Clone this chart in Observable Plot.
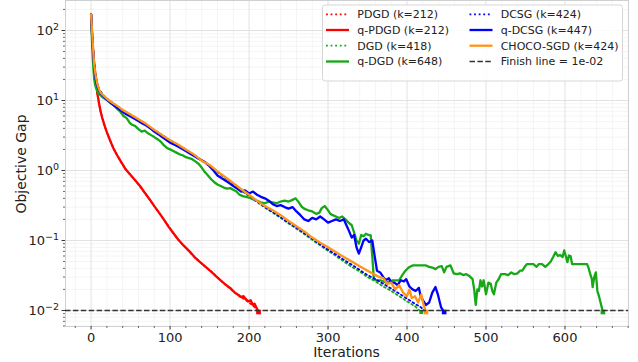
<!DOCTYPE html>
<html><head><meta charset="utf-8">
<script src="https://cdn.jsdelivr.net/npm/d3@7"></script>
<script src="https://cdn.jsdelivr.net/npm/@observablehq/plot@0.6"></script>
<style>
html,body{margin:0;padding:0;background:#fff;}
#wrap{position:relative;width:638px;height:362px;font-family:"DejaVu Sans",sans-serif;}
#wrap svg{position:absolute;left:0;top:0;}
</style></head><body><div id="wrap"></div>
<script>
// ---- data (iteration, objective gap) ----
const PDGD = [[0,170],[1,92],[2,61],[3,43],[4,32],[5,25],[6,19.5],[7,15.5],[8,12.4],[10,9.1],[12,7.0],[14,5.7],[17,4.4],[20,3.5],[24,2.7],[28,2.1],[33,1.64],[38,1.32],[44,1.03],[50,0.86],[56,0.72],[62,0.59],[68,0.48],[74,0.385],[80,0.31],[86,0.25],[92,0.2],[98,0.16],[104,0.128],[110,0.104],[117,0.085],[124,0.07],[131,0.058],[138,0.049],[145,0.042],[152,0.036],[158,0.031],[164,0.027],[170,0.0235],[176,0.0205],[182,0.018],[188,0.016],[194,0.0145],[200,0.013],[206,0.0115],[212,0.0095]];
const qPDGD = [[0,170],[1,95],[2,62],[3,44],[4,33],[5,26],[6,20],[7,15.5],[8,12.5],[10,9.2],[12,7.0],[14,5.7],[17,4.4],[20,3.5],[24,2.7],[28,2.1],[33,1.65],[38,1.33],[44,1.03],[50,0.86],[56,0.72],[62,0.6],[68,0.48],[74,0.39],[80,0.31],[86,0.25],[92,0.2],[98,0.158],[104,0.128],[110,0.104],[117,0.085],[124,0.071],[131,0.058],[138,0.049],[145,0.042],[152,0.036],[158,0.031],[164,0.027],[170,0.0235],[176,0.021],[182,0.018],[187,0.0165],[190,0.0155],[193,0.016],[196,0.0145],[199,0.0135],[202,0.014],[205,0.012],[207,0.0125],[209,0.0112],[212,0.0095]];
const DGD = [[0,170],[2,70],[4,33],[6,22],[8,17],[10,14.5],[15,12],[20,10.5],[30,8.7],[40,7.2],[50,6.2],[60,5.3],[70,4.5],[80,3.75],[90,3.15],[100,2.65],[110,2.3],[120,1.95],[130,1.65],[140,1.38],[150,1.15],[160,0.95],[170,0.78],[180,0.64],[190,0.52],[200,0.43],[210,0.355],[220,0.295],[230,0.25],[240,0.21],[250,0.175],[260,0.147],[270,0.123],[280,0.102],[290,0.085],[300,0.071],[310,0.06],[320,0.05],[330,0.042],[340,0.036],[350,0.03],[360,0.026],[370,0.022],[380,0.019],[390,0.016],[400,0.0135],[410,0.0115],[418,0.0095]];
const qDGD = [[0,170],[1,80],[2,44],[3,28],[4,20],[5,17],[6,15.5],[8,13.5],[10,12.3],[12,11.8],[15,11],[18,10.5],[21,10],[25,9.2],[29,8.5],[33,7.6],[37,6.9],[41,6.0],[45,5.6],[49,4.8],[52,4.5],[56,4.3],[60,3.9],[64,3.6],[68,3.7],[72,3.4],[76,3.2],[80,3.0],[84,2.8],[88,2.6],[92,2.3],[96,2.1],[100,2.0],[104,1.9],[108,1.8],[112,1.7],[116,1.65],[120,1.55],[124,1.5],[128,1.45],[132,1.35],[136,1.25],[140,1.1],[144,0.95],[148,0.85],[152,0.75],[156,0.68],[160,0.63],[164,0.6],[168,0.57],[172,0.55],[176,0.56],[180,0.53],[184,0.5],[188,0.45],[192,0.43],[196,0.42],[200,0.41],[205,0.39],[210,0.37],[215,0.35],[220,0.34],[225,0.36],[230,0.35],[235,0.34],[240,0.36],[245,0.37],[250,0.36],[255,0.38],[259,0.4],[263,0.35],[267,0.3],[271,0.28],[275,0.27],[280,0.26],[285,0.24],[289,0.25],[292,0.29],[296,0.31],[299,0.28],[303,0.24],[306,0.23],[310,0.22],[314,0.21],[318,0.22],[322,0.2],[326,0.18],[330,0.165],[333,0.13],[336,0.1],[339,0.09],[342,0.12],[345,0.115],[348,0.125],[351,0.12],[354,0.118],[356,0.06],[358,0.028],[362,0.027],[366,0.027],[370,0.026],[374,0.025],[378,0.026],[382,0.027],[386,0.027],[390,0.027],[394,0.032],[398,0.037],[402,0.041],[407,0.044],[412,0.044],[418,0.044],[424,0.044],[428,0.042],[432,0.041],[436,0.039],[440,0.042],[444,0.043],[447,0.035],[450,0.042],[455,0.044],[459,0.034],[463,0.033],[467,0.034],[471,0.032],[475,0.033],[479,0.031],[483,0.028],[485,0.02],[487,0.012],[489,0.02],[491,0.019],[493,0.027],[495,0.022],[497,0.027],[500,0.017],[503,0.025],[506,0.024],[508,0.019],[510,0.017],[513,0.025],[516,0.028],[519,0.033],[524,0.033],[528,0.032],[532,0.035],[536,0.033],[540,0.034],[543,0.037],[546,0.037],[549,0.042],[552,0.046],[556,0.046],[560,0.046],[564,0.042],[567,0.046],[571,0.046],[575,0.042],[579,0.046],[582,0.05],[585,0.058],[588,0.068],[591,0.06],[594,0.062],[597,0.058],[599,0.072],[601,0.06],[603,0.049],[605,0.061],[607,0.06],[609,0.046],[613,0.046],[618,0.046],[623,0.046],[628,0.046],[630,0.04],[632,0.033],[634,0.028],[635,0.0216],[637,0.03],[639,0.035],[641,0.019],[643,0.016],[645,0.013],[648,0.0095]];
const DCSG = [[0,170],[2,70],[4,33],[6,22],[8,17],[10,14.5],[15,12],[20,10.6],[30,8.8],[40,7.3],[50,6.3],[60,5.35],[70,4.55],[80,3.8],[90,3.2],[100,2.7],[110,2.33],[120,1.98],[130,1.68],[140,1.4],[150,1.17],[160,0.96],[170,0.79],[180,0.65],[190,0.53],[200,0.44],[210,0.36],[220,0.3],[230,0.255],[240,0.215],[250,0.18],[260,0.152],[270,0.127],[280,0.106],[290,0.088],[300,0.074],[310,0.063],[320,0.053],[330,0.045],[340,0.038],[350,0.032],[360,0.028],[370,0.024],[380,0.0205],[390,0.0175],[400,0.0148],[410,0.0125],[418,0.011],[424,0.0095]];
const qDCSG = [[0,170],[1,100],[2,62],[3,42],[4,30],[5,24],[6,20],[8,16],[10,14],[12,12.7],[15,11.8],[20,10.3],[25,9.2],[30,8.3],[35,7.6],[40,6.9],[45,6.3],[50,5.9],[55,5.5],[60,5.1],[65,4.7],[70,4.4],[75,4.0],[80,3.6],[85,3.3],[90,3.0],[95,2.75],[100,2.5],[105,2.35],[110,2.2],[115,2.05],[120,1.9],[125,1.75],[130,1.62],[135,1.5],[140,1.4],[145,1.3],[150,1.15],[155,1.0],[160,0.85],[165,0.78],[170,0.72],[175,0.66],[180,0.6],[185,0.55],[190,0.5],[195,0.52],[200,0.47],[205,0.5],[210,0.45],[215,0.42],[220,0.4],[225,0.37],[230,0.33],[235,0.31],[240,0.32],[245,0.3],[250,0.285],[255,0.3],[260,0.26],[265,0.23],[270,0.2],[275,0.19],[280,0.21],[285,0.2],[290,0.22],[295,0.2],[300,0.18],[305,0.19],[310,0.2],[315,0.19],[320,0.2],[325,0.15],[330,0.11],[333,0.12],[336,0.08],[339,0.065],[342,0.08],[345,0.1],[348,0.106],[352,0.095],[356,0.1],[359,0.06],[362,0.037],[366,0.035],[370,0.03],[373,0.027],[377,0.029],[380,0.025],[384,0.025],[388,0.023],[392,0.027],[396,0.026],[399,0.028],[403,0.022],[407,0.02],[411,0.019],[415,0.021],[417,0.0165],[420,0.014],[424,0.012],[428,0.013],[432,0.018],[436,0.0216],[439,0.017],[443,0.0112],[447,0.0095]];
const CHOCO = [[0,170],[1,110],[2,70],[3,45],[4,32],[5,26],[6,22],[8,17],[10,14.5],[12,13],[15,12],[20,10.6],[25,9.6],[30,8.8],[35,8.1],[40,7.3],[50,6.3],[60,5.4],[70,4.6],[80,3.8],[90,3.2],[100,2.7],[110,2.35],[120,2.0],[130,1.7],[140,1.38],[150,1.2],[160,0.97],[170,0.8],[180,0.66],[190,0.54],[200,0.45],[210,0.37],[220,0.31],[230,0.27],[240,0.23],[250,0.19],[260,0.16],[270,0.135],[280,0.11],[290,0.093],[300,0.08],[310,0.068],[320,0.058],[330,0.05],[340,0.043],[350,0.037],[360,0.032],[365,0.03],[370,0.029],[375,0.024],[380,0.025],[385,0.02],[390,0.023],[395,0.018],[400,0.016],[403,0.02],[406,0.015],[410,0.016],[414,0.013],[418,0.017],[421,0.012],[424,0.0095]];
const finishLine = 0.01;

const seriesNames = ["PDGD (k=212)","q-PDGD (k=212)","DGD (k=418)","q-DGD (k=648)","DCSG (k=424)","q-DCSG (k=447)","CHOCO-SGD (k=424)","Finish line = 1e-02"];
const xTicks = [0,100,200,300,400,500,600];
const yTicks = [0.01,0.1,1,10,100];
const yTickLabels = ["10^−2","10^−1","10^0","10^1","10^2"];

// ---- styles ----
const RED="#ff0000", GREEN="#16a816", BLUE="#0000ff", ORANGE="#ff9418";
const xMinor=[]; for(let v=-20; v<=680; v+=20) if(v%100!==0) xMinor.push(v);
const yMinor=[]; for(let k=-3;k<=2;k++) for(let m=2;m<=9;m++){const v=m*Math.pow(10,k); if(v>0.0059&&v<268) yMinor.push(v);}

const X=d=>d[0], Y=d=>d[1];
const solid=(data,c)=>Plot.line(data,{x:X,y:Y,stroke:c,strokeWidth:2.3,strokeLinejoin:"round"});
const dotted=(data,c)=>Plot.line(data,{x:X,y:Y,stroke:c,strokeWidth:1.8,strokeDasharray:"1.8,2.8"});
const endDot=(data,c,r)=>Plot.dot([data[data.length-1]],{x:X,y:Y,fill:c,symbol:"square",r:r});

const chart = Plot.plot({
  width:638, height:362,
  marginLeft:65, marginRight:10, marginTop:0, marginBottom:36,
  style:{fontFamily:"DejaVu Sans, sans-serif", fontSize:"13px", color:"#222", background:"transparent", overflow:"visible"},
  x:{domain:[-32.4,680.4], label:null},
  y:{type:"log", domain:[Math.pow(10,-2.229),Math.pow(10,2.4286)], label:null},
  marks:[
    Plot.ruleY(yMinor,{stroke:"#f1f1f1",strokeWidth:0.8}),
    Plot.ruleX(xMinor,{stroke:"#f1f1f1",strokeWidth:0.8}),
    Plot.ruleY(yTicks,{stroke:"#e2e2e2",strokeWidth:1}),
    Plot.ruleX(xTicks,{stroke:"#e2e2e2",strokeWidth:1}),
    Plot.frame({stroke:"#d0d0d0"}),
    dotted(PDGD,RED), solid(qPDGD,RED),
    dotted(DGD,GREEN), solid(qDGD,GREEN),
    dotted(DCSG,BLUE), solid(qDCSG,BLUE),
    solid(CHOCO,ORANGE),
    endDot(PDGD,RED,2.2), endDot(qPDGD,RED,2.6),
    endDot(DGD,GREEN,2.2), endDot(qDGD,GREEN,2.6),
    endDot(DCSG,BLUE,2.2), endDot(qDCSG,BLUE,2.6),
    endDot(CHOCO,ORANGE,2.6),
    Plot.ruleY([finishLine],{stroke:"#333",strokeWidth:1.5,strokeDasharray:"5.5,2.4"}),
    Plot.axisX({ticks:xTicks, tickSize:3.5, tickPadding:3, label:null, tickFormat:d=>String(d), stroke:"#333"}),
    Plot.axisX({ticks:xMinor, tickSize:2, label:null, tickFormat:()=>"", stroke:"#666"}),
    Plot.axisY({ticks:yTicks, tickSize:3.5, tickPadding:3, label:null, tickFormat:(d,i)=>yTickLabels[yTicks.indexOf(d)], stroke:"#333"}),
    Plot.axisY({ticks:yMinor, tickSize:2, label:null, tickFormat:()=>"", stroke:"#666"})
  ]
});
const wrap=document.getElementById("wrap");
wrap.appendChild(chart);

// superscript formatting of y tick labels
d3.select(chart).selectAll('g[aria-label="y-axis tick label"] text').each(function(){
  const t=this.textContent; if(!t||t.indexOf("^")<0) return;
  const [base,exp]=t.split("^");
  const sel=d3.select(this); sel.text("");
  sel.append("tspan").text(base);
  sel.append("tspan").attr("dy","-0.5em").attr("font-size","9.5px").text(exp);
});

// ---- overlay: axis titles & legend ----
const ov=d3.select(wrap).append("svg").attr("width",638).attr("height",362)
  .style("font-family","DejaVu Sans, sans-serif").style("pointer-events","none");
ov.append("text").attr("transform","translate(21,164) rotate(-90)").attr("text-anchor","middle")
  .attr("dy","0.35em").attr("font-size","14px").attr("fill","#222").text("Objective Gap");
ov.append("text").attr("x",346.5).attr("y",352).attr("text-anchor","middle")
  .attr("dy","0.35em").attr("font-size","14px").attr("fill","#222").text("Iterations");

const lg=ov.append("g");
lg.append("rect").attr("x",322.5).attr("y",5).attr("width",300).attr("height",76).attr("rx",2.5)
  .attr("fill","rgba(255,255,255,0.85)").attr("stroke","#d6d6d6");
const styles=[
  {c:RED,dash:"1.8,2.8",w:1.8},{c:RED,dash:null,w:2.3},
  {c:GREEN,dash:"1.8,2.8",w:1.8},{c:GREEN,dash:null,w:2.3},
  {c:BLUE,dash:"1.8,2.8",w:1.8},{c:BLUE,dash:null,w:2.3},
  {c:ORANGE,dash:null,w:2.3},{c:"#333",dash:"5.5,2.4",w:1.5}
];
const rowsY=[14.3,30,45.7,61.5];
seriesNames.forEach((name,i)=>{
  const col=Math.floor(i/4), row=i%4;
  const hx=col===0?326:469.5, tx=col===0?357.3:500.7, y=rowsY[row];
  const s=styles[i];
  const ln=lg.append("line").attr("x1",hx).attr("x2",hx+23).attr("y1",y).attr("y2",y)
    .attr("stroke",s.c).attr("stroke-width",s.w);
  if(s.dash) ln.attr("stroke-dasharray",s.dash);
  lg.append("text").attr("x",tx).attr("y",y).attr("dy","0.36em").attr("font-size","11px")
    .attr("fill","#222").text(name);
});
</script></body></html>
